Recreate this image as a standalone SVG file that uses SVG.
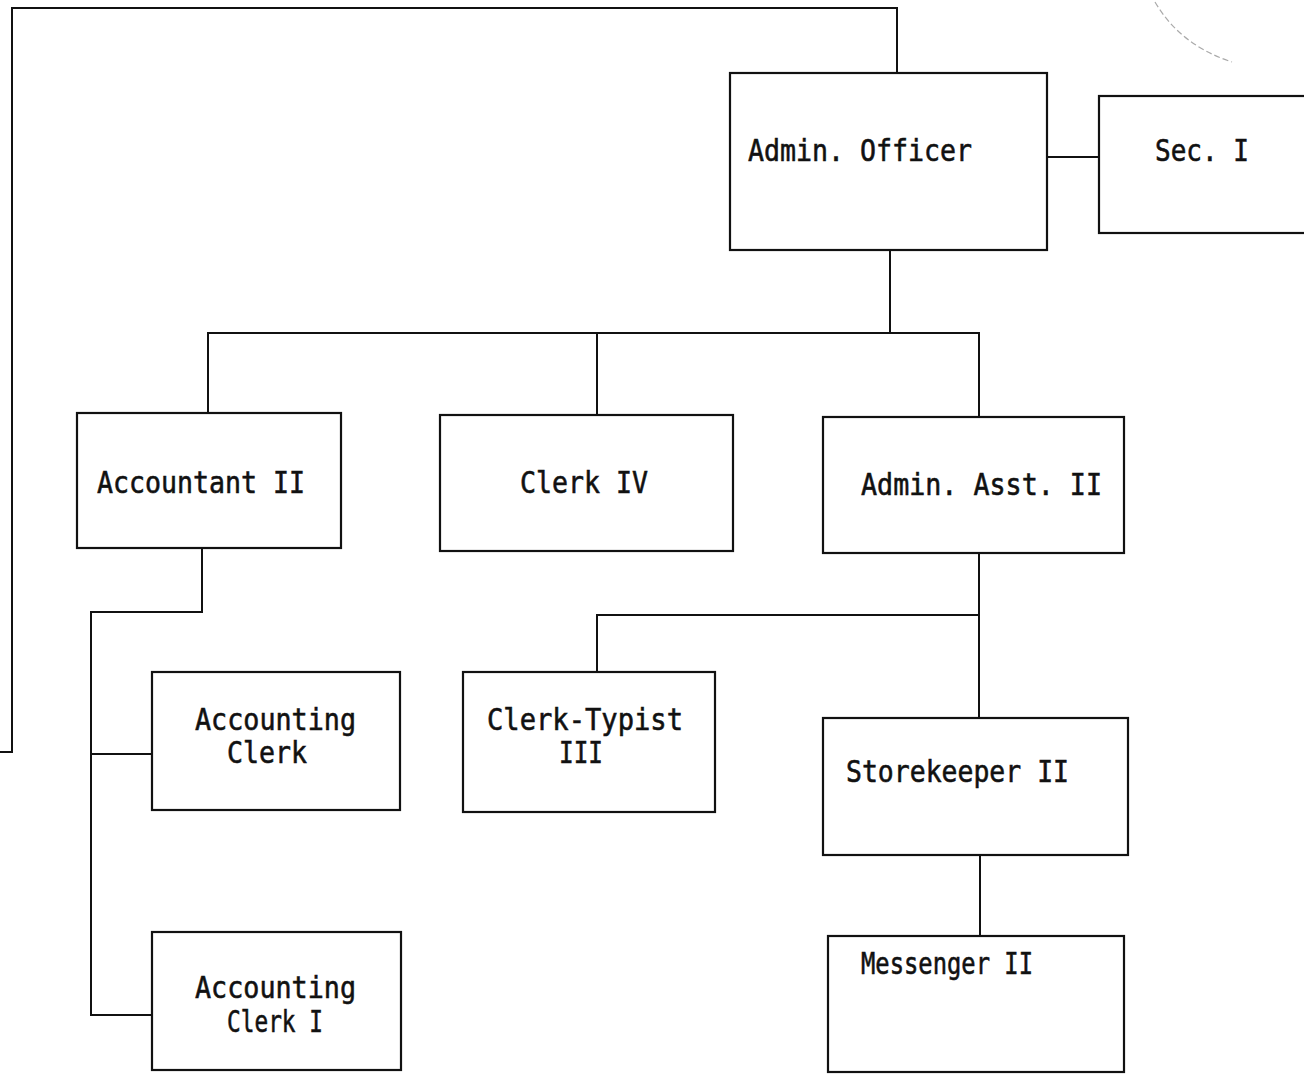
<svg xmlns="http://www.w3.org/2000/svg" width="1304" height="1074" viewBox="0 0 1304 1074">
<style>
.box{fill:none;stroke:#111;stroke-width:2.2}
.ln{fill:none;stroke:#111;stroke-width:2}
.t{font-family:"DejaVu Sans Mono","Liberation Mono",monospace;font-size:31px;fill:#111;stroke:#111;stroke-width:0.6}
</style>
<rect width="1304" height="1074" fill="#fff"/>
<path d="M1155 2 Q1180 45 1232 62" fill="none" stroke="#aaa" stroke-width="1.2" stroke-dasharray="6 3"/>
<g id="connectors">
<path class="ln" d="M0 752 H12 V8 H897 V73"/>
<path class="ln" d="M1047 157 H1099"/>
<path class="ln" d="M890 250 V333"/>
<path class="ln" d="M208 413 V333 H979 V418"/>
<path class="ln" d="M597 333 V415"/>
<path class="ln" d="M202 548 V612 H91 V1015 H152"/>
<path class="ln" d="M91 754 H152"/>
<path class="ln" d="M979 553 V718"/>
<path class="ln" d="M979 615 H597 V672"/>
<path class="ln" d="M980 855 V936"/>
</g>
<g id="admin-officer"><rect class="box" x="730" y="73" width="317" height="177"/><text class="t" x="748" y="161" textLength="224" lengthAdjust="spacingAndGlyphs">Admin. Officer</text></g>
<g id="sec-i"><rect class="box" x="1099" y="96" width="210" height="137"/><text class="t" x="1155" y="161" textLength="94" lengthAdjust="spacingAndGlyphs">Sec. I</text></g>
<g id="accountant-ii"><rect class="box" x="77" y="413" width="264" height="135"/><text class="t" x="97" y="493" textLength="208" lengthAdjust="spacingAndGlyphs">Accountant II</text></g>
<g id="clerk-iv"><rect class="box" x="440" y="415" width="293" height="136"/><text class="t" x="520" y="493" textLength="128" lengthAdjust="spacingAndGlyphs">Clerk IV</text></g>
<g id="admin-asst-ii"><rect class="box" x="823" y="417" width="301" height="136"/><text class="t" x="861" y="495" textLength="241" lengthAdjust="spacingAndGlyphs">Admin. Asst. II</text></g>
<g id="accounting-clerk"><rect class="box" x="152" y="672" width="248" height="138"/><text class="t" x="195" y="730" textLength="161" lengthAdjust="spacingAndGlyphs">Accounting</text><text class="t" x="227" y="763" textLength="80" lengthAdjust="spacingAndGlyphs">Clerk</text></g>
<g id="clerk-typist-iii"><rect class="box" x="463" y="672" width="252" height="140"/><text class="t" x="487" y="730" textLength="196" lengthAdjust="spacingAndGlyphs">Clerk-Typist</text><text class="t" x="559" y="763" textLength="44" lengthAdjust="spacingAndGlyphs">III</text></g>
<g id="storekeeper-ii"><rect class="box" x="823" y="718" width="305" height="137"/><text class="t" x="846" y="782" textLength="223" lengthAdjust="spacingAndGlyphs">Storekeeper II</text></g>
<g id="accounting-clerk-i"><rect class="box" x="152" y="932" width="249" height="138"/><text class="t" x="195" y="998" textLength="161" lengthAdjust="spacingAndGlyphs">Accounting</text><text class="t" x="227" y="1032" textLength="96" lengthAdjust="spacingAndGlyphs">Clerk I</text></g>
<g id="messenger-ii"><rect class="box" x="828" y="936" width="296" height="136"/><text class="t" x="861" y="974" textLength="172" lengthAdjust="spacingAndGlyphs">Messenger II</text></g>
</svg>
